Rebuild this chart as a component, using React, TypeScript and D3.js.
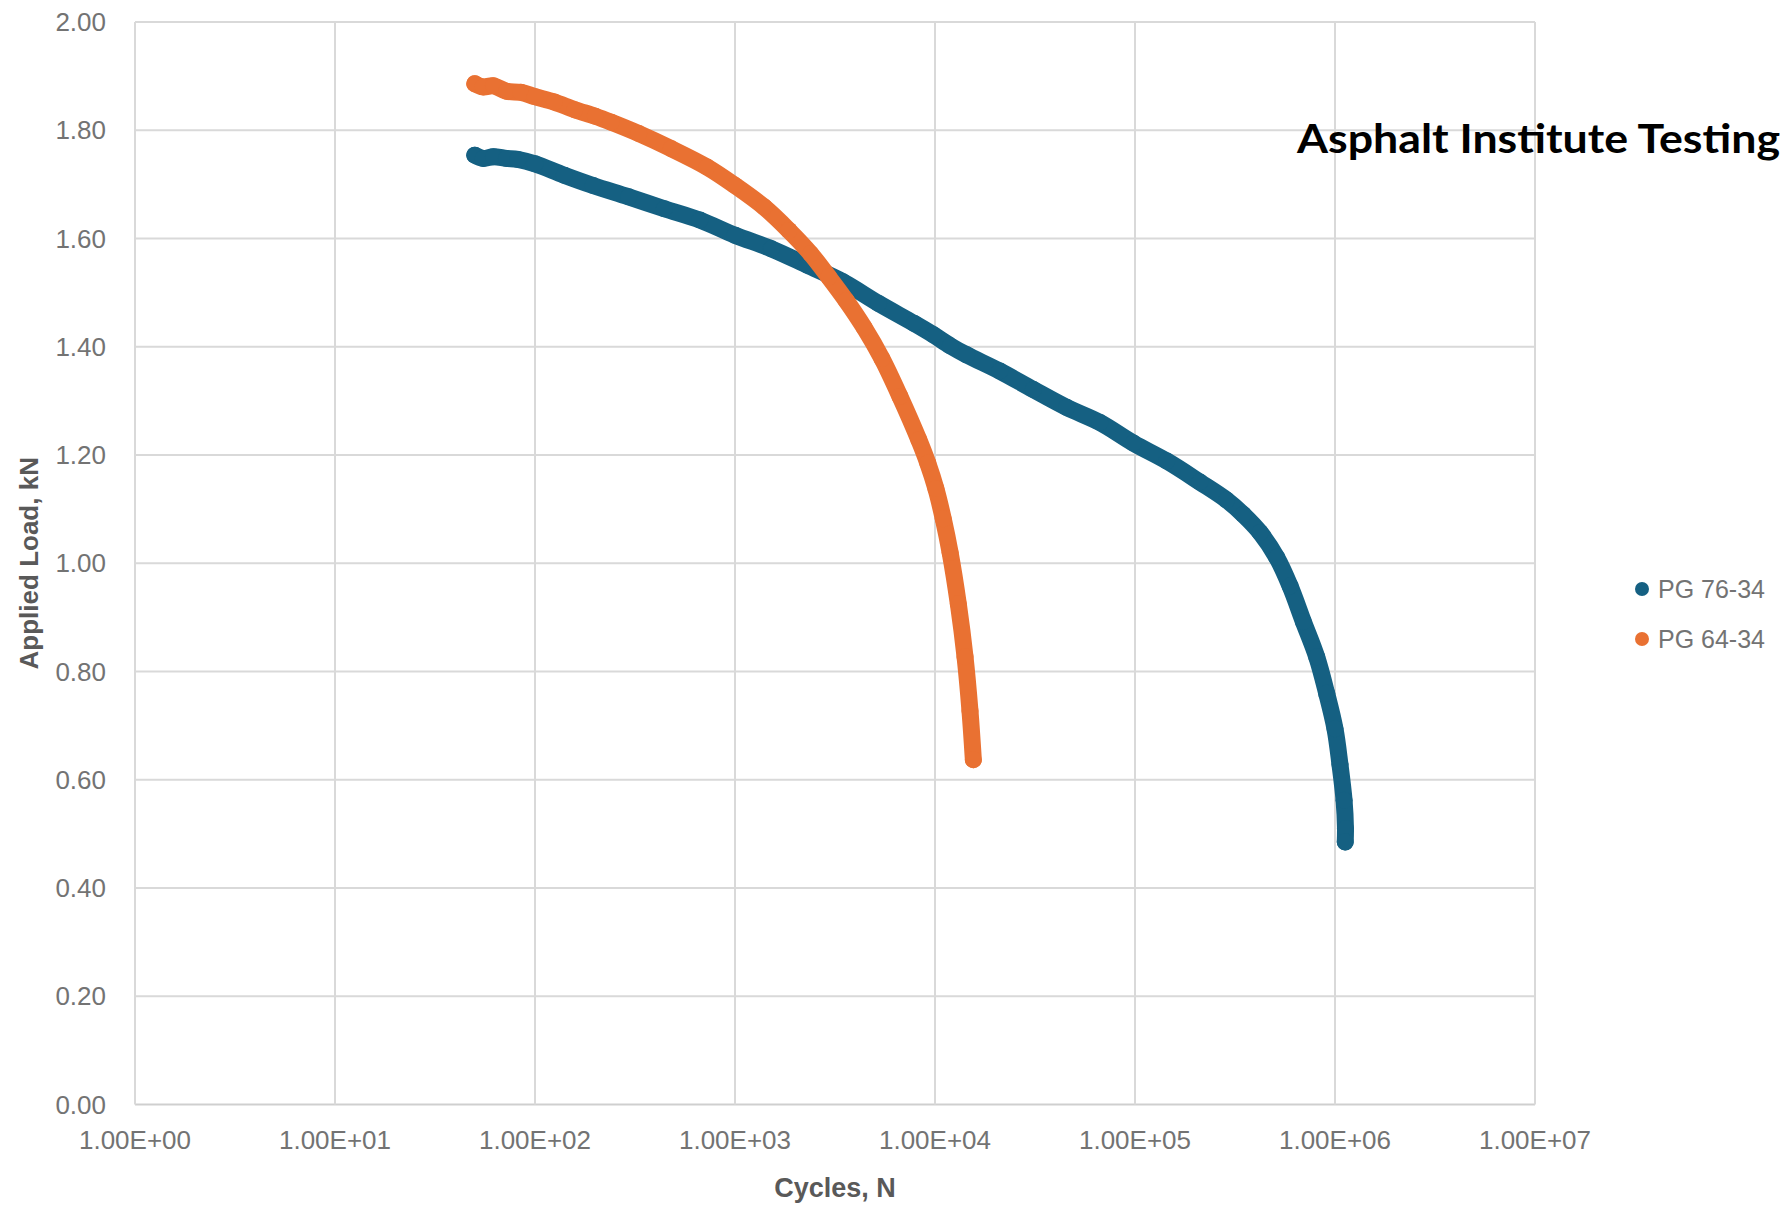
import React from "react";
import * as d3 from "d3";

const WIDTH = 1791;
const HEIGHT = 1206;

const xTickValues = [1, 10, 100, 1000, 10000, 100000, 1000000, 10000000];
const xTickLabels = ["1.00E+00", "1.00E+01", "1.00E+02", "1.00E+03", "1.00E+04", "1.00E+05", "1.00E+06", "1.00E+07"];
const yTickValues = [0, 0.2, 0.4, 0.6, 0.8, 1.0, 1.2, 1.4, 1.6, 1.8, 2.0];

const seriesNames = ["PG 76-34", "PG 64-34"];
const seriesColors = ["#156082", "#E97132"];

// PG 76-34
const pg76Cycles = [50, 55, 62, 72, 82, 100, 140, 195, 294, 443, 668, 1000, 1520, 2290, 3460, 5220, 7870, 9810, 11900, 14400, 21100, 31000, 45500, 66800, 98100, 144000, 211000, 287000, 348000, 422000, 511000, 596000, 695000, 810000, 908000, 1000000, 1059000, 1110000, 1128000, 1125000];
const pg76Load = [1.754, 1.748, 1.751, 1.748, 1.746, 1.738, 1.717, 1.698, 1.677, 1.655, 1.634, 1.606, 1.581, 1.551, 1.520, 1.480, 1.443, 1.422, 1.402, 1.385, 1.355, 1.321, 1.288, 1.260, 1.222, 1.189, 1.150, 1.117, 1.090, 1.057, 1.011, 0.958, 0.892, 0.827, 0.760, 0.694, 0.628, 0.562, 0.510, 0.485];

// PG 64-34
const pg64Cycles = [50, 55, 62, 72, 85, 100, 125, 158, 200, 240, 330, 480, 725, 1000, 1400, 1860, 2390, 2940, 3600, 4430, 5430, 6680, 8300, 9200, 10100, 11000, 11900, 13080, 14130, 14960, 15550];
const pg64Load = [1.886, 1.880, 1.882, 1.872, 1.870, 1.862, 1.852, 1.838, 1.826, 1.815, 1.794, 1.766, 1.732, 1.698, 1.658, 1.615, 1.572, 1.529, 1.485, 1.435, 1.378, 1.308, 1.228, 1.185, 1.138, 1.082, 1.020, 0.925, 0.827, 0.727, 0.637];

const margin = { left: 135, right: 1535, top: 22, bottom: 1104.5 };

export default function App() {
  const x = d3.scaleLog().domain([1, 1e7]).range([margin.left, margin.right]);
  const y = d3.scaleLinear().domain([0, 2]).range([margin.bottom, margin.top]);

  const series = [
    { name: seriesNames[0], color: seriesColors[0], pts: pg76Cycles.map((c, i) => [c, pg76Load[i]] as [number, number]) },
    { name: seriesNames[1], color: seriesColors[1], pts: pg64Cycles.map((c, i) => [c, pg64Load[i]] as [number, number]) },
  ];

  const line = d3
    .line<[number, number]>()
    .x((d) => x(d[0]))
    .y((d) => y(d[1]))
    .curve(d3.curveCatmullRom.alpha(0.5));

  const tickFont = "'Liberation Sans', Arial, sans-serif";
  const tickColor = "#737373";
  const gridColor = "#d9d9d9";

  return (
    <svg width={WIDTH} height={HEIGHT} style={{ position: "absolute", left: 0, top: 0, background: "#fff" }}>
      <rect x={0} y={0} width={WIDTH} height={HEIGHT} fill="#fff" />
      {yTickValues.map((v) => (
        <line key={"h" + v} x1={margin.left} x2={margin.right} y1={y(v)} y2={y(v)} stroke={v === 0 ? "#cfcfcf" : gridColor} strokeWidth={2} />
      ))}
      {xTickValues.map((v) => (
        <line key={"v" + v} x1={x(v)} x2={x(v)} y1={margin.top} y2={margin.bottom} stroke={gridColor} strokeWidth={2} />
      ))}
      {yTickValues.map((v) => (
        <text key={"yl" + v} x={106} y={y(v) + 9} textAnchor="end" fontFamily={tickFont} fontSize={26} fill={tickColor}>
          {v.toFixed(2)}
        </text>
      ))}
      {xTickValues.map((v, i) => (
        <text key={"xl" + v} x={x(v)} y={1149} textAnchor="middle" fontFamily={tickFont} fontSize={26} fill={tickColor}>
          {xTickLabels[i]}
        </text>
      ))}
      <text x={835} y={1197} textAnchor="middle" fontFamily={tickFont} fontWeight="bold" fontSize={27} fill="#595959">
        Cycles, N
      </text>
      <text transform={`translate(38, ${(margin.top + margin.bottom) / 2}) rotate(-90)`} textAnchor="middle" fontFamily={tickFont} fontWeight="bold" fontSize={26} fill="#595959">
        Applied Load, kN
      </text>
      {series.map((s) => (
        <g key={s.name}>
          <path d={line(s.pts) || ""} fill="none" stroke={s.color} strokeWidth={17} strokeLinejoin="round" strokeLinecap="round" />
          {s.pts.map((p, i) => (
            <circle key={i} cx={x(p[0])} cy={y(p[1])} r={8.5} fill={s.color} />
          ))}
        </g>
      ))}
      <text x={1297} y={153} fontFamily="Lato, 'Open Sans', sans-serif" fontWeight="bold" fontSize={40} fill="#000" textLength={483} lengthAdjust="spacingAndGlyphs">
        Asphalt Institute Testing
      </text>
      {series.map((s, i) => (
        <g key={"lg" + s.name} transform={`translate(1642, ${589 + i * 50})`}>
          <circle cx={0} cy={0} r={7} fill={s.color} />
          <text x={16} y={9} fontFamily={tickFont} fontSize={25} fill={tickColor}>
            {s.name}
          </text>
        </g>
      ))}
    </svg>
  );
}
